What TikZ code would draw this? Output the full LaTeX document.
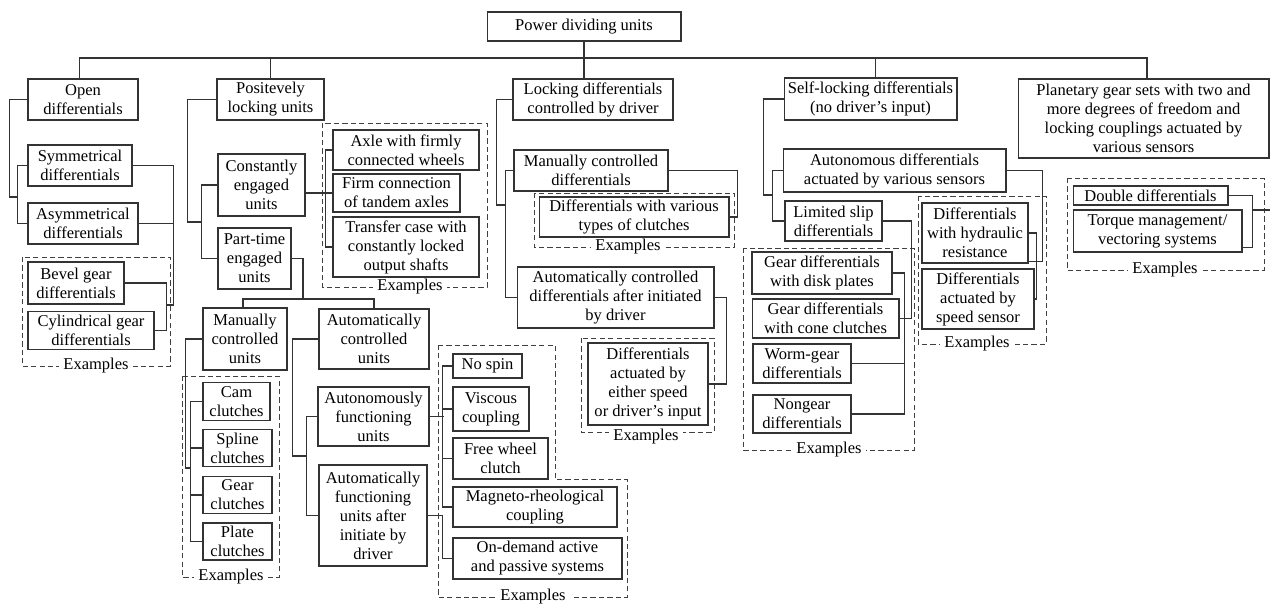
\documentclass[tikz,border=0pt]{standalone}
\usepackage{fontspec}
\setmainfont{Liberation Serif}

\tikzset{
 box/.style 2 args={draw=black!80,line width=.6pt,align=center,inner xsep=1pt,inner ysep=.5pt,
   minimum width=#1cm,minimum height=#2cm,font=\fontsize{9.4}{10.8}\selectfont},
 link/.style={draw=black!80,line width=.6pt},
 exbox/.style={draw=black!75,line width=.55pt,dash pattern=on 3pt off 1.8pt},
 exlabel/.style={fill=white,inner xsep=2.5pt,inner ysep=0pt,font=\fontsize{9.4}{10.8}\selectfont}
}

\begin{document}
\begin{tikzpicture}[x=0.02cm,y=-0.02cm]
\useasboundingbox (0,0) rectangle (1270,603);

% dashed frames round the examples
\draw[exbox](22,257)rectangle(170,366);
\node[exlabel] (exopen) at (96,366) {Examples};
\draw[exbox](322,123)rectangle(487,287);
\node[exlabel] (exconst) at (410,287) {Examples};
\draw[exbox](182,376)rectangle(279,577);
\node[exlabel] (exmanu) at (231,577) {Examples};
\draw[exbox](438,345)-|(555,479)-|(627,597)--(438,597)--cycle;
\node[exlabel] (exauto) at (533,597) {Examples};
\draw[exbox](534,193)rectangle(734,247);
\node[exlabel] (exmancd) at (628,247) {Examples};
\draw[exbox](581,338)rectangle(714,432);
\node[exlabel] (exautocd) at (646,437) {Examples};
\draw[exbox](743,248)rectangle(914,450);
\node[exlabel] (exlsd) at (829,450) {Examples};
\draw[exbox](918,196)rectangle(1046,344);
\node[exlabel] (exsens) at (977,344) {Examples};
\draw[exbox](1067,178)rectangle(1264,270);
\node[exlabel] (explan) at (1165,270) {Examples};

% top and first level
\node[box={3.88}{0.58}] (power) at (584,26.5) {Power dividing units};
\node[box={2.2}{0.82}] (open) at (83,99.5) {Open\\differentials};
\node[box={2.14}{0.82}] (posit) at (270.5,99.5) {Positevely\\locking units};
\node[box={3.2}{0.82}] (lockd) at (593,99.5) {Locking differentials\\controlled by driver};
\node[box={3.46}{0.84}] (selfl) at (870.5,99) {Self-locking differentials\\(no driver’s input)};
\node[box={5.02}{1.58}] (plan) at (1143.5,118.5) {Planetary gear sets with two and\\more degrees of freedom and\\locking couplings actuated by\\various sensors};

% open differentials
\node[box={2.08}{0.82}] (sym) at (80,165.5) {Symmetrical\\differentials};
\node[box={2.2}{0.82}] (asym) at (83,223.5) {Asymmetrical\\differentials};
\node[box={1.92}{0.84}] (bevel) at (76,283) {Bevel gear\\differentials};
\node[box={2.52}{0.76}] (cyl) at (91,330.5) {Cylindrical gear\\differentials};

% positively locking units
\node[box={1.74}{1.24}] (const) at (261.5,185) {Constantly\\engaged\\units};
\node[box={1.46}{1.22}] (part) at (254.5,258.5) {Part-time\\engaged\\units};
\node[box={2.92}{0.8}] (axle) at (406,150) {Axle with firmly\\connected wheels};
\node[box={2.54}{0.76}] (firm) at (396.5,193) {Firm connection\\of tandem axles};
\node[box={2.92}{1.2}] (transfer) at (406,247) {Transfer case with\\constantly locked\\output shafts};
\node[box={1.68}{1.24}] (manu) at (245,339) {Manually\\controlled\\units};
\node[box={2.2}{1.2}] (autoc) at (374,339) {Automatically\\controlled\\units};
\node[box={1.34}{0.76}] (cam) at (236.5,401.5) {Cam\\clutches};
\node[box={1.38}{0.74}] (spline) at (237.5,448) {Spline\\clutches};
\node[box={1.38}{0.74}] (gear) at (237.5,495) {Gear\\clutches};
\node[box={1.38}{0.74}] (plate) at (237.5,541.5) {Plate\\clutches};
\node[box={2.22}{1.18}] (autonom) at (373.5,416.5) {Autonomously\\functioning\\units};
\node[box={2.16}{2.02}] (afterinit) at (373,515.5) {Automatically\\functioning\\units after\\initiate by\\driver};
\node[box={1.38}{0.48}] (nospin) at (487.5,366) {No spin};
\node[box={1.52}{0.88}] (viscous) at (491,409) {Viscous\\coupling};
\node[box={1.9}{0.82}] (freewh) at (500.5,458.5) {Free wheel\\clutch};
\node[box={3.28}{0.8}] (magneto) at (535,507) {Magneto-rheological\\coupling};
\node[box={3.38}{0.82}] (ondemand) at (537.5,558.5) {On-demand active\\and passive systems};

% locking differentials
\node[box={3.08}{0.82}] (mancd) at (591,170.5) {Manually controlled\\differentials};
\node[box={3.8}{0.8}] (clutchd) at (634,217) {Differentials with various\\types of clutches};
\node[box={3.94}{1.22}] (autocd) at (615.5,297.5) {Automatically controlled\\differentials after initiated\\by driver};
\node[box={2.4}{1.64}] (eitherd) at (648,384) {Differentials\\actuated by\\either speed\\or driver’s input};

% self-locking differentials
\node[box={4.46}{0.86}] (autsens) at (894.5,170.5) {Autonomous differentials\\actuated by various sensors};
\node[box={1.94}{0.8}] (lsd) at (833.5,221) {Limited slip\\differentials};
\node[box={2.12}{1.2}] (hydr) at (975,233) {Differentials\\with hydraulic\\resistance};
\node[box={2.24}{1.2}] (speeds) at (978,299) {Differentials\\actuated by\\speed sensor};
\node[box={2.8}{0.84}] (disk) at (822,273) {Gear differentials\\with disk plates};
\node[box={2.94}{0.78}] (cone) at (825.5,318.5) {Gear differentials\\with cone clutches};
\node[box={1.96}{0.78}] (worm) at (802,363.5) {Worm-gear\\differentials};
\node[box={1.96}{0.76}] (nongear) at (802,414) {Nongear\\differentials};

% planetary gear sets
\node[box={3.1}{0.38}] (double) at (1150.5,195.5) {Double differentials};
\node[box={3.38}{0.84}] (torque) at (1157.5,231) {Torque management/\\vectoring systems};

% junctions
\coordinate (bus) at (584,58);
\coordinate (openj) at (18,197);
\coordinate (exj) at (166,305);
\coordinate (posj) at (202,222);
\coordinate (partj) at (303,299);
\coordinate (manj) at (191,468);
\coordinate (autj) at (307,456);
\coordinate (lockj) at (506,205);
\coordinate (selfj) at (773,195);
\coordinate (planj) at (1252,210);

% main bus
\draw[link](power.south)--(power.south|-lockd.north);
\draw[link]([xshift=-.07cm]open.north)|-(bus);
\draw[link](posit.north)|-(bus);
\draw[link]([xshift=.1cm]selfl.north)|-(bus);
\draw[link]([xshift=.07cm]plan.north)|-(bus);

% open differentials
\draw[link](open.west)--++(-18,0)|-(openj);
\draw[link](sym.west)--++(-10,0)|-(asym.west);
\draw[link](sym.east)--++(41,0)|-(exj);
\draw[link](asym.east)--++(35,0);
\draw[link](bevel.east)--++(42,0)|-(cyl.east);

% positively locking units
\draw[link](posit.west)--++(-29,0)|-(posj);
\draw[link](const.west)--++(-16,0)|-(part.west);
\draw[link](axle.west)--++(-7,0)|-(transfer.west);
\draw[link](const.east|-firm.west)--(firm.west);
\draw[link](part.east)-|(partj);
\draw[link]([xshift=-.04cm]manu.north)|-(partj)-|(autoc.north);
\draw[link](manu.west)--++(-17,0)|-(manj);
\draw[link](cam.west)--++(-12,0)|-(plate.west);
\foreach \n in {spline,gear}
  \draw[link](\n.west)--++(-12,0);
\draw[link](autoc.west)--++(-26,0)|-(autj);
\draw[link](autonom.west)--++(-11,0)|-(afterinit.west);
\draw[link](nospin.west)--++(-10,0)|-(magneto.west);
\foreach \n in {viscous,freewh}
  \draw[link](\n.west)--++(-10,0);
\draw[link](autonom.east)--++(14,0);
\draw[link](afterinit.east)--++(15,0)|-(ondemand.west);

% locking differentials
\draw[link](lockd.west)--++(-16,0)|-(lockj);
\draw[link](mancd.west)--++(-8,0)|-(autocd.west);
\draw[link](mancd.east)--++(69,0)|-(clutchd.east);
\draw[link](autocd.east)--++(12,0)|-(eitherd.east);

% self-locking differentials
\draw[link](selfl.west)--++(-20,0)|-(selfj);
\draw[link](autsens.west)--++(-10,0)|-(lsd.west);
\draw[link](autsens.east)--++(36,0)|-([yshift=.04cm]hydr.south east);
\draw[link](hydr.east)--++(8,0)|-(speeds.east);
\draw[link](lsd.east)--++(29,0)|-(cone.east);
\draw[link](disk.east)--++(12,0)|-(nongear.east);
\draw[link](worm.east)--++(53,0);

% planetary gear sets
\draw[link](double.east)--++(24,0)|-([yshift=.1cm]torque.south east);
\draw[link](plan.east)--++(8,0)|-(planj);
\end{tikzpicture}
\end{document}
